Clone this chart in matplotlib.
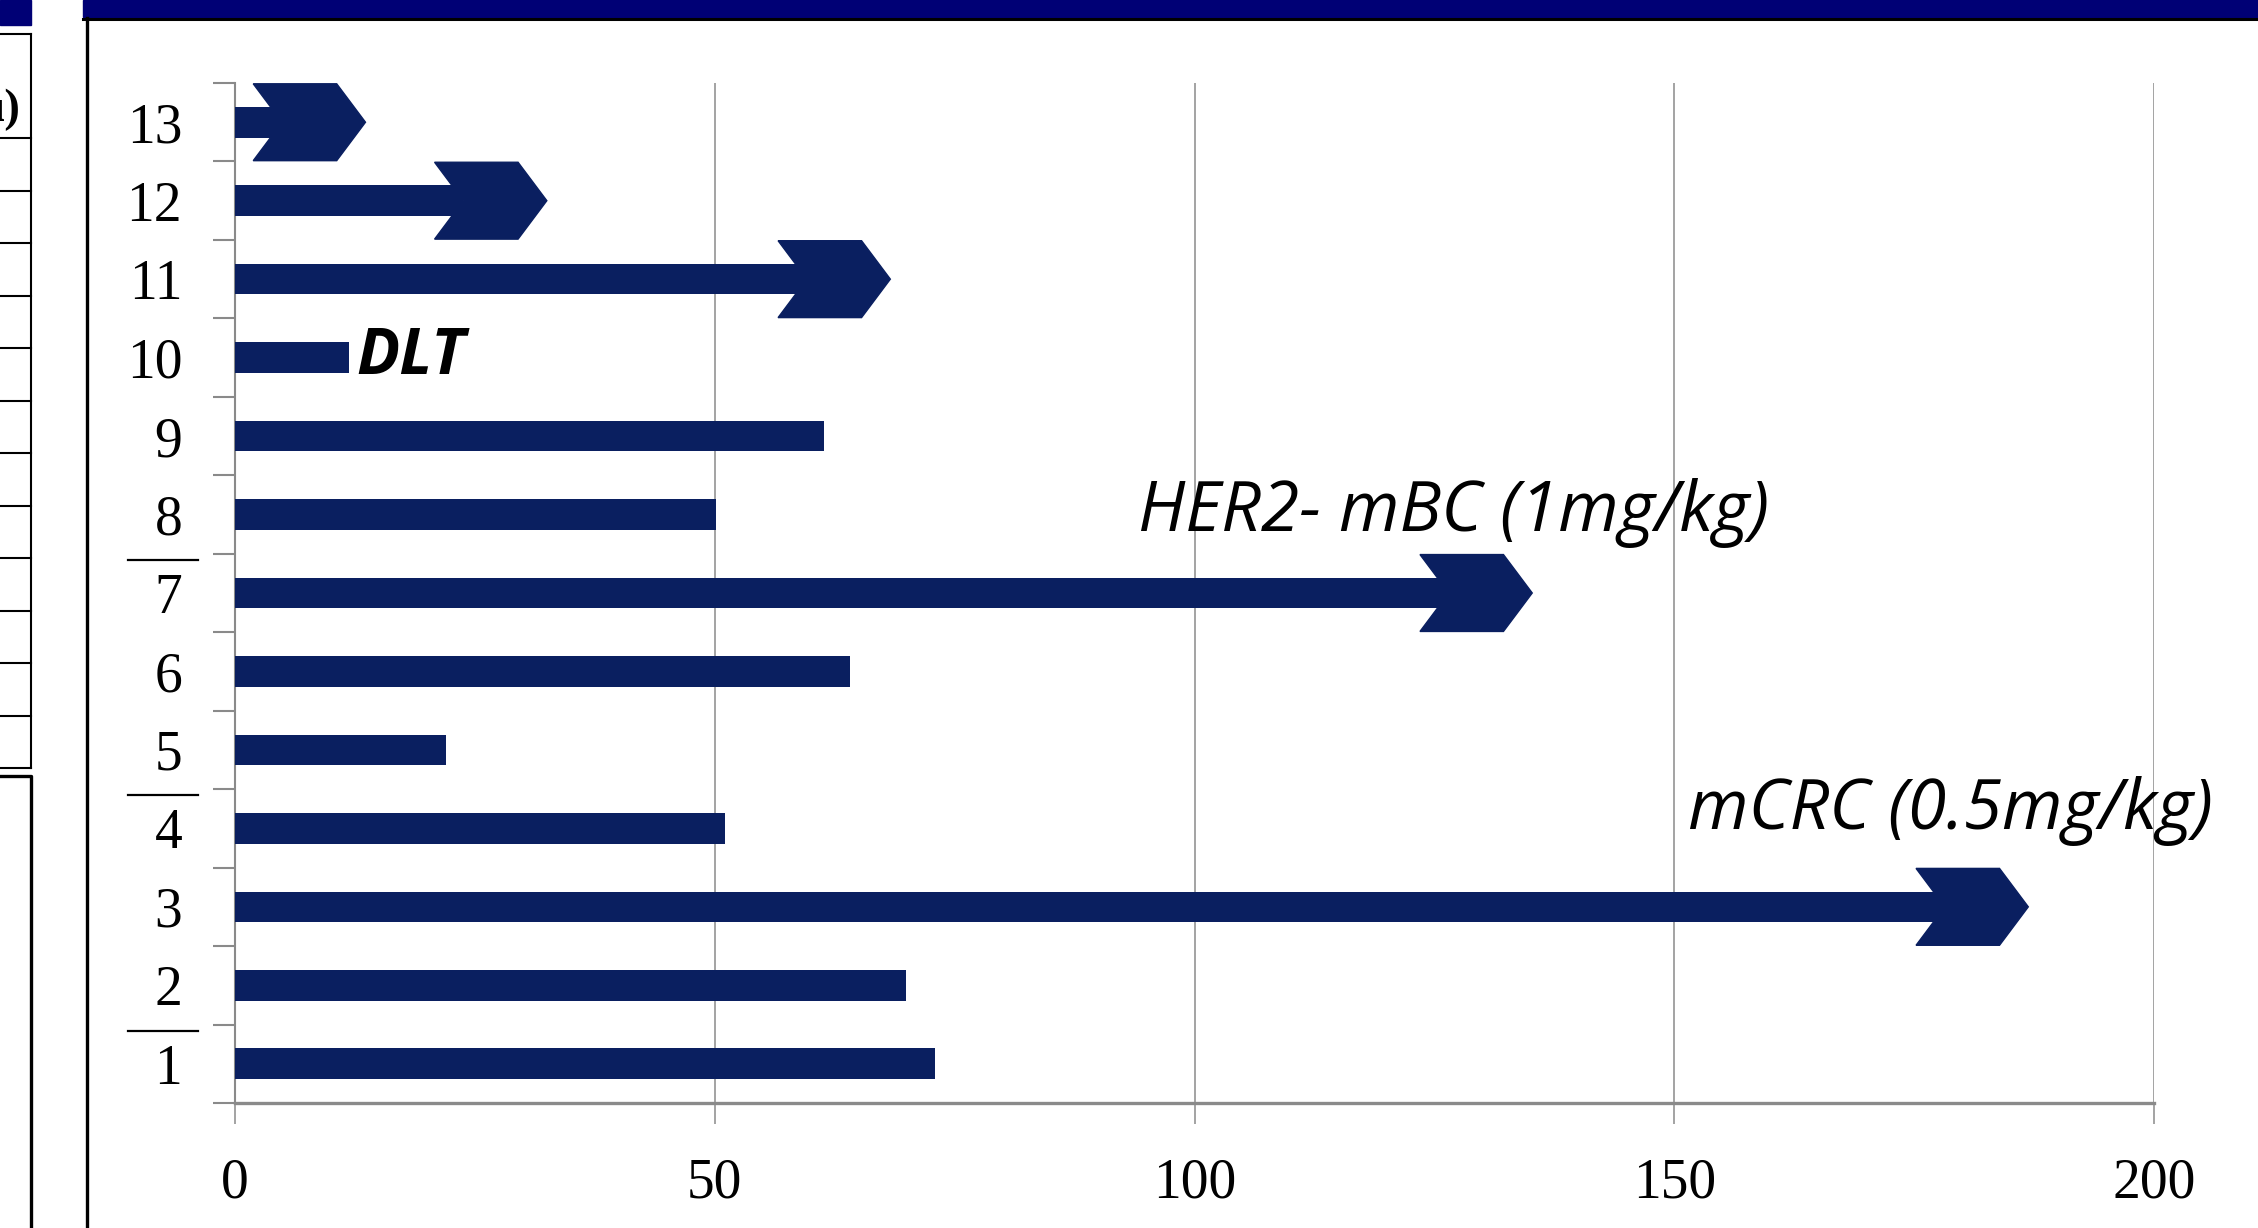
import matplotlib.pyplot as plt
from matplotlib.patches import Polygon, Rectangle
from matplotlib.lines import Line2D
import matplotlib.transforms as mtransforms

# time on study per patient (arrow tip for ongoing patients)
patients = list(range(1, 14))
duration = [73.0, 69.9, 186.9, 51.1, 22.0, 64.1, 135.2, 50.1, 61.4, 11.9, 68.3, 32.5, 13.6]
ongoing = [False, False, True, False, False, False, True, False, False, False, True, True, True]
group_last = [1, 4, 7]          # last patient of each dose cohort
xticks = [0, 50, 100, 150, 200]

notes = [("DLT", 12.6, 10.0, "bold"),
         ("HER2- mBC (1mg/kg)", 94.1, 8.02, "normal"),
         ("mCRC (0.5mg/kg)", 151.4, 4.22, "normal")]

navy = "#0a1f60"
W, H = 2258, 1228

fig = plt.figure(figsize=(W / 100, H / 100), dpi=100)
ax = fig.add_axes([235 / W, 1 - 1103 / H, (2154 - 235) / W, (1103 - 83) / H])


def fx(px):
    return px / W


def fy(py):
    return 1 - py / H


# slide decoration around the chart
fig.add_artist(Rectangle((fx(83), fy(17)), fx(W - 83), 17 / H, color="#000075", transform=fig.transFigure))
fig.add_artist(Line2D([fx(83), 1], [fy(18.5)] * 2, color="black", lw=2.2, transform=fig.transFigure))
fig.add_artist(Line2D([fx(87)] * 2, [fy(18), 0], color="black", lw=2.4, transform=fig.transFigure))
fig.add_artist(Rectangle((0, fy(25)), fx(31), 25 / H, color="#000075", transform=fig.transFigure))
fig.add_artist(Line2D([fx(31)] * 2, [fy(34), fy(768)], color="black", lw=1.5, transform=fig.transFigure))
for yy in [34, 138] + [138 + 52.5 * i for i in range(1, 13)]:
    fig.add_artist(Line2D([0, fx(31)], [fy(yy)] * 2, color="black", lw=1.5, transform=fig.transFigure))
fig.add_artist(Line2D([0, fx(31), fx(31)], [fy(776), fy(776), 0], color="black", lw=2.4,
                      transform=fig.transFigure))
fig.text(fx(20), fy(110), "u)", ha="right", va="center", fontsize=34, fontweight="bold",
         family="Liberation Serif")

# bars and arrows
head_w, head_d, head_h, bar_h = 11.7, 3.0, 0.49, 0.39
for p, v, arr in zip(patients, duration, ongoing):
    if arr:
        ax.barh(p, v - head_w + head_d, height=bar_h, color=navy, zorder=3)
        pts = [(v - head_w, p + head_h), (v - head_d, p + head_h), (v, p),
               (v - head_d, p - head_h), (v - head_w, p - head_h), (v - head_w + head_d, p)]
        ax.add_patch(Polygon(pts, closed=True, color=navy, zorder=3))
    else:
        ax.barh(p, v, height=bar_h, color=navy, zorder=3)

for txt, x, y, wt in notes:
    ax.text(x, y, txt, ha="left", va="center", style="italic", fontweight=wt,
            fontsize=46 if wt == "bold" else 50, family=["Open Sans", "DejaVu Sans"], zorder=4)

ax.set_xlim(0, 200)
ax.set_ylim(0.5, 13.5)
ax.set_xticks(xticks)
ax.set_xticklabels([str(t) for t in xticks], family="Liberation Serif", fontsize=40)
ax.grid(axis="x", color="#8a8a8a", lw=1.1, zorder=1)

ax.set_yticks([i + 0.5 for i in range(0, 14)])
ax.set_yticklabels([])
ax.set_yticks(patients, minor=True)
ax.set_yticklabels([str(p) for p in patients], minor=True, family="Liberation Serif", fontsize=40)
ax.tick_params(axis="y", which="major", length=16, width=1.5, color="#8a8a8a", direction="out")
ax.tick_params(axis="y", which="minor", length=0, pad=38)
ax.tick_params(axis="x", length=15, width=1.1, color="#8a8a8a", pad=24)

for s in ["top", "right"]:
    ax.spines[s].set_visible(False)
ax.spines["left"].set_color("#8a8a8a")
ax.spines["left"].set_linewidth(1.5)
ax.spines["bottom"].set_color("#8a8a8a")
ax.spines["bottom"].set_linewidth(2.4)

# cohort separators next to the patient numbers
blend = mtransforms.blended_transform_factory(fig.transFigure, ax.transData)
for g in group_last:
    ax.add_line(Line2D([fx(128), fx(198)], [g + 0.42] * 2, color="black", lw=1.6,
                       transform=blend, clip_on=False))

fig.savefig("out.png", dpi=100)
